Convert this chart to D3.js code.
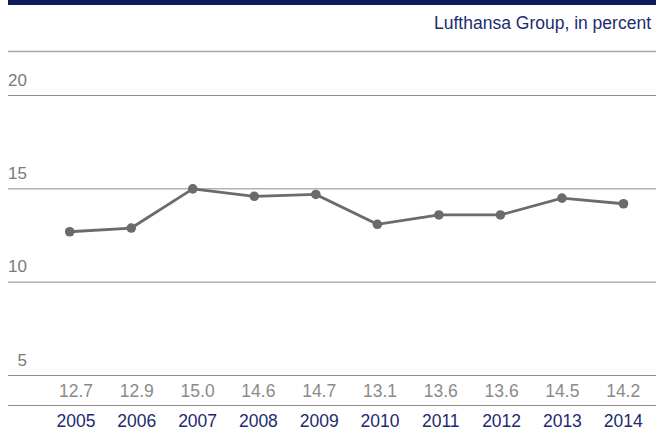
<!DOCTYPE html>
<html lang="en">
<head>
  <meta charset="UTF-8" />
  <title>Lufthansa Group, in percent</title>
  <script src="https://d3js.org/d3.v7.min.js"></script>
  <style>
    body {
      margin: 0;
      background: #fff;
    }
    svg {
      display: block;
      font-family: 'Liberation Sans', Arial, sans-serif;
    }
  </style>
</head>
<body>
  <div id="chart"></div>

  <script>
    // data
    const years = ["2005", "2006", "2007", "2008", "2009", "2010", "2011", "2012", "2013", "2014"];
    const values = [12.7, 12.9, 15.0, 14.6, 14.7, 13.1, 13.6, 13.6, 14.5, 14.2];
    const yTicks = [5, 10, 15, 20];
    const subtitle = "Lufthansa Group, in percent";

    const width = 656;
    const height = 432;
    const navy = "#0b1b5c";

    const svg = d3.select("#chart")
      .append("svg")
      .attr("width", width)
      .attr("height", height);

    // top bar + subtitle
    svg.append("rect")
      .attr("x", 8)
      .attr("y", 0)
      .attr("width", width - 8)
      .attr("height", 5)
      .attr("fill", navy);

    svg.append("text")
      .attr("x", 651)
      .attr("y", 29)
      .attr("text-anchor", "end")
      .attr("fill", "#1d2b70")
      .style("font-size", "17.5px")
      .text(subtitle);

    svg.append("line")
      .attr("x1", 8).attr("x2", width)
      .attr("y1", 51.5).attr("y2", 51.5)
      .attr("stroke", "#a8a8a8")
      .attr("stroke-width", 1.5);

    const x = d3.scalePoint()
      .domain(years)
      .range([69.7, 623.5]);

    const y = d3.scaleLinear()
      .domain([5, 20])
      .range([375.5, 95.5]);

    // gridlines + tick labels
    const grid = svg.append("g");
    grid.selectAll("line")
      .data(yTicks)
      .join("line")
      .attr("x1", 8).attr("x2", width)
      .attr("y1", d => y(d)).attr("y2", d => y(d))
      .attr("stroke", "#8c8c8c")
      .attr("stroke-width", 1);

    grid.selectAll("text")
      .data(yTicks)
      .join("text")
      .attr("x", 27)
      .attr("y", d => y(d) - 10)
      .attr("text-anchor", "end")
      .attr("fill", "#7a7a7a")
      .style("font-size", "17px")
      .text(d => d);

    // line + points
    const line = d3.line()
      .x((d, i) => x(years[i]))
      .y(d => y(d));

    svg.append("path")
      .datum(values)
      .attr("fill", "none")
      .attr("stroke", "#6a6b6f")
      .attr("stroke-width", 2.8)
      .attr("d", line);

    svg.append("g")
      .selectAll("circle")
      .data(values)
      .join("circle")
      .attr("cx", (d, i) => x(years[i]))
      .attr("cy", d => y(d))
      .attr("r", 4.8)
      .attr("fill", "#6a6b6f");

    // table below: values and years
    const col = d3.scaleBand()
      .domain(years)
      .range([45.6, 653.6]);

    svg.append("g")
      .selectAll("text")
      .data(values)
      .join("text")
      .attr("x", (d, i) => col(years[i]) + col.bandwidth() / 2)
      .attr("y", 396.5)
      .attr("text-anchor", "middle")
      .attr("fill", "#8a8a8a")
      .style("font-size", "17.5px")
      .text(d => d.toFixed(1));

    svg.append("line")
      .attr("x1", 8).attr("x2", width)
      .attr("y1", 405.5).attr("y2", 405.5)
      .attr("stroke", "#8c8c8c")
      .attr("stroke-width", 1);

    svg.append("g")
      .selectAll("text")
      .data(years)
      .join("text")
      .attr("x", d => col(d) + col.bandwidth() / 2)
      .attr("y", 426.5)
      .attr("text-anchor", "middle")
      .attr("fill", "#1d2b70")
      .style("font-size", "17.5px")
      .text(d => d);
  </script>
</body>
</html>
